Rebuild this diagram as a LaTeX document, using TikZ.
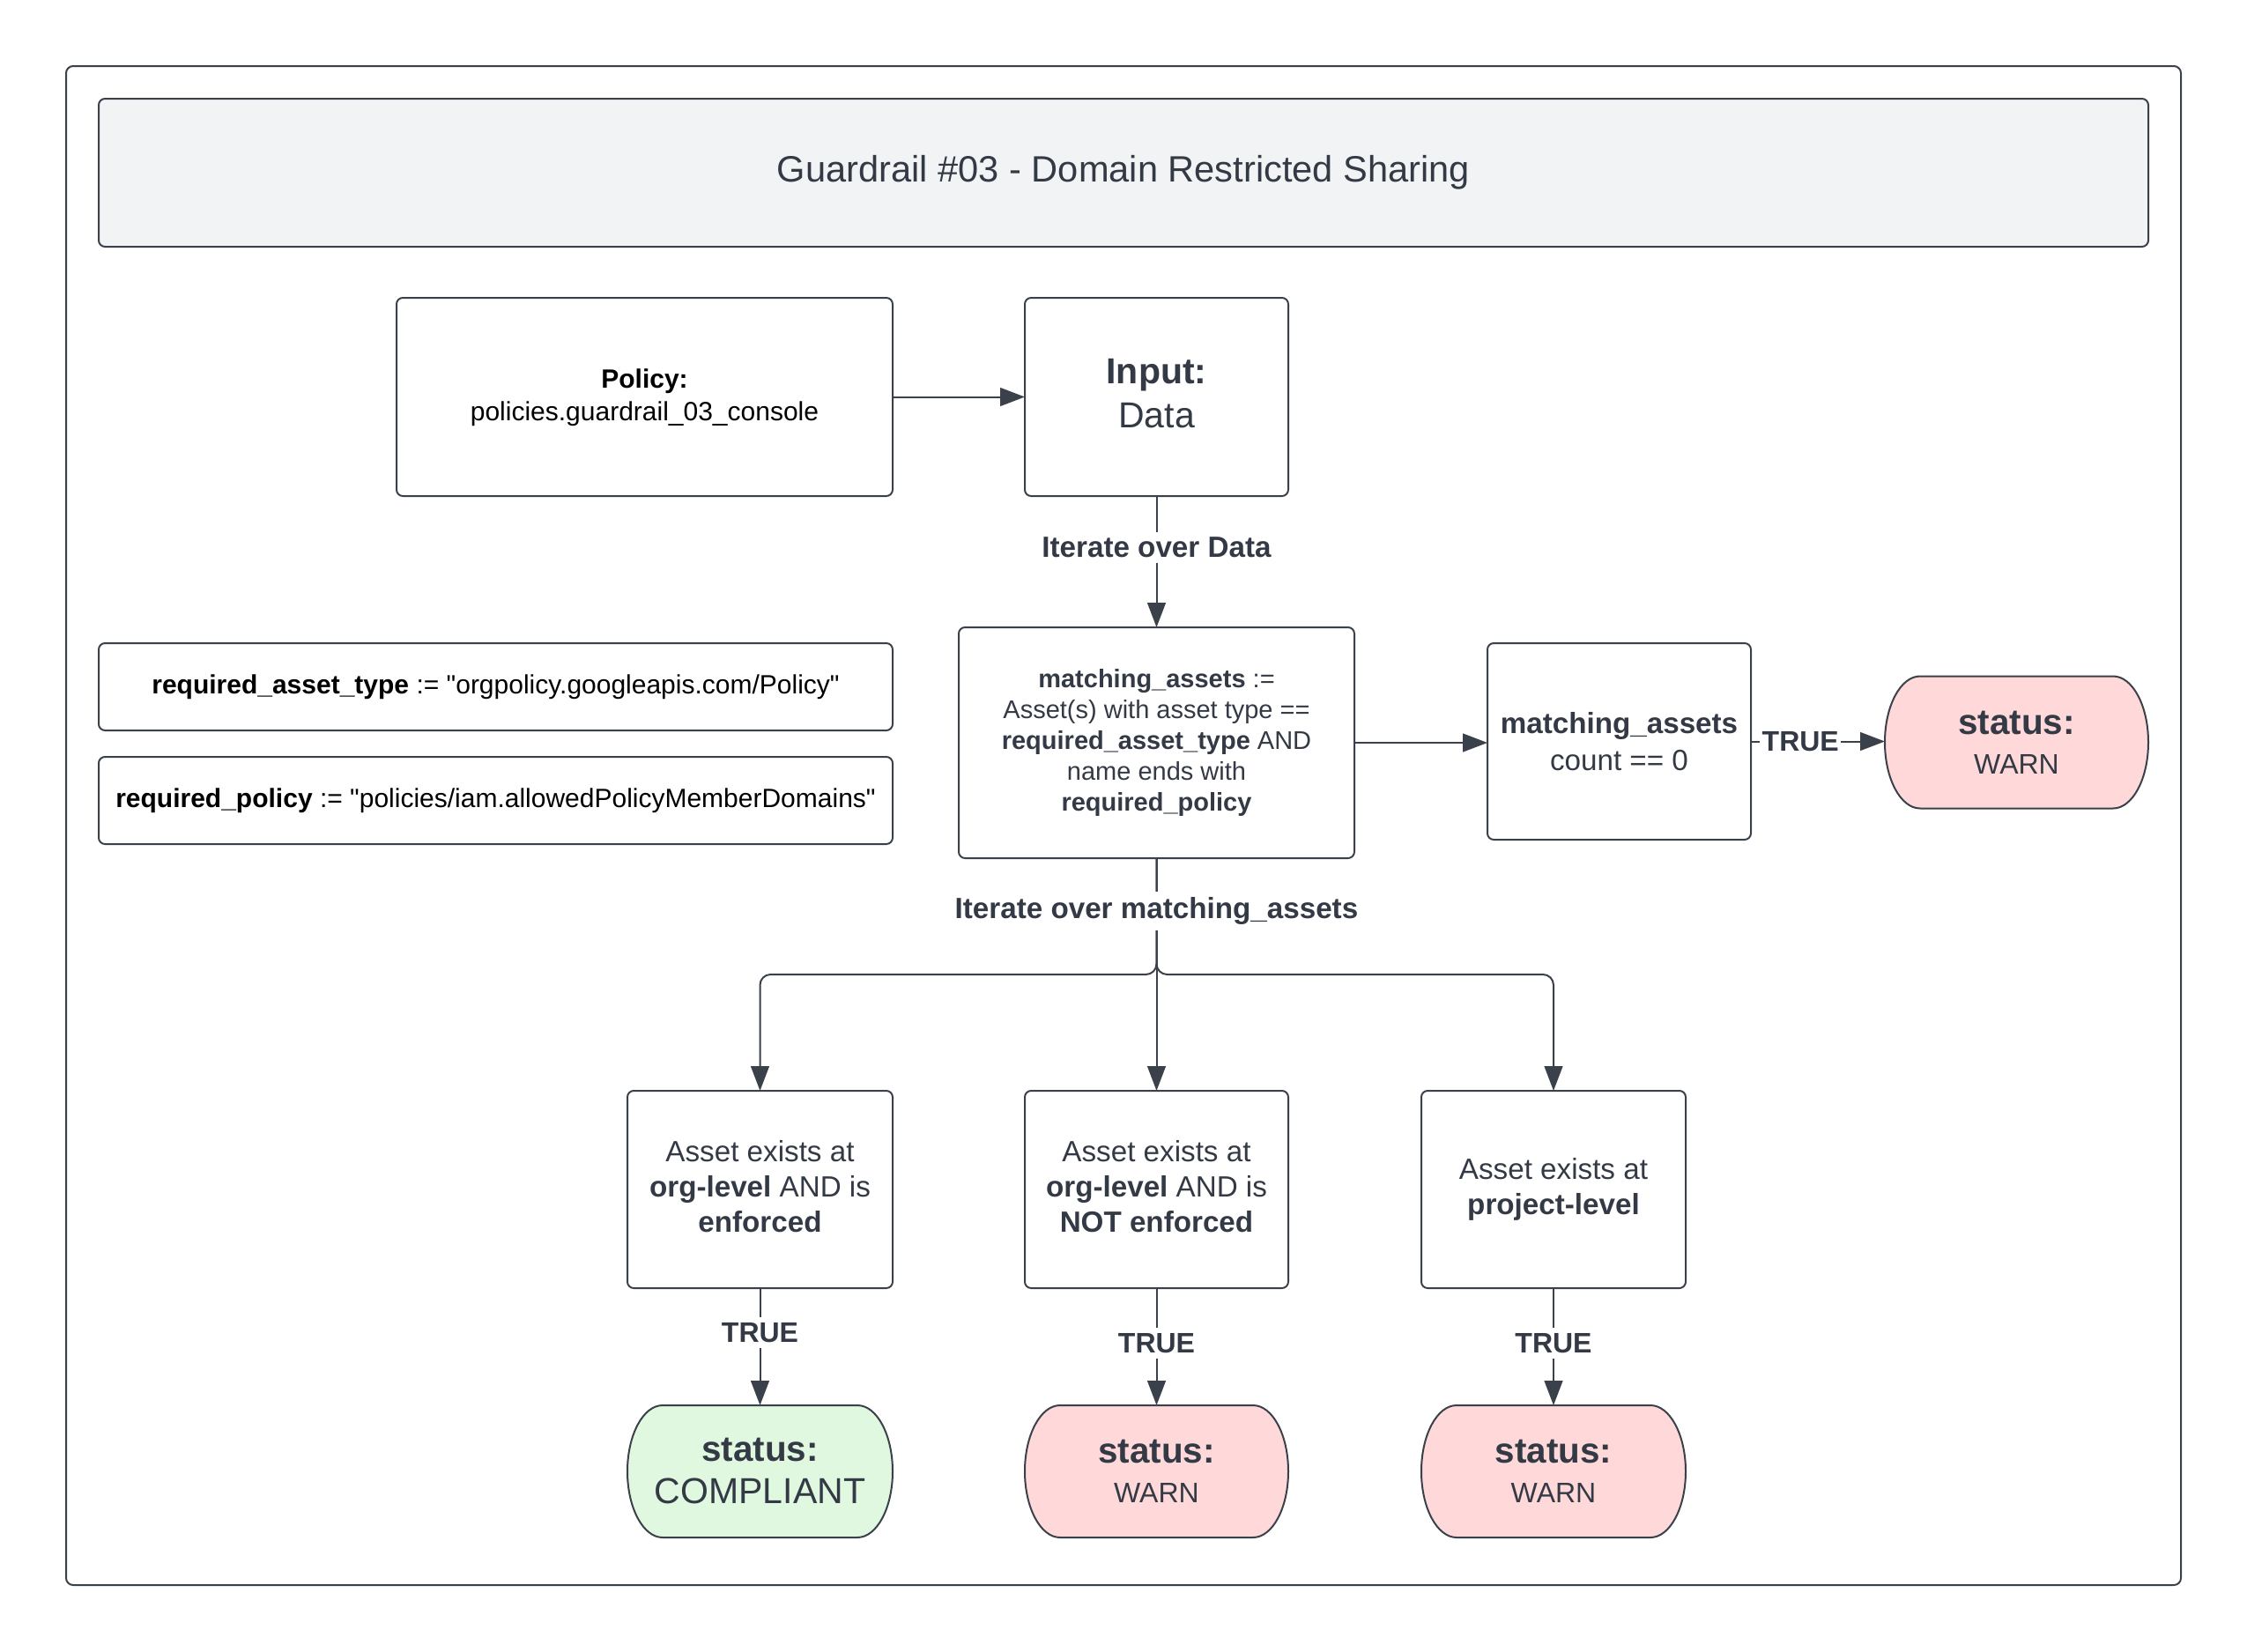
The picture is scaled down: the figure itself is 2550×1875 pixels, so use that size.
\documentclass[tikz,border=0pt]{standalone}
\usepackage{fontspec}
\setmainfont{Liberation Sans}[Ligatures=TeXOff]
\usetikzlibrary{arrows.meta,calc,backgrounds}
\definecolor{linec}{HTML}{3A414A}
\definecolor{textc}{HTML}{333A45}
\definecolor{titlefill}{HTML}{F2F3F5}
\definecolor{pinkfill}{HTML}{FFD9D9}
\definecolor{greenfill}{HTML}{E1F8E0}
\newcommand{\fs}[2]{\fontsize{#1}{#2}\selectfont}
\newcommand{\termbg}[2]{%
  \begin{scope}[on background layer]
  \filldraw[fill=#2, draw=linec, line width=0.5pt]
    ($(#1.north west)+(10pt,0)$) -- ($(#1.north east)+(-10pt,0)$)
    arc[start angle=90, end angle=-90, x radius=10pt, y radius=18.75pt]
    -- ($(#1.south west)+(10pt,0)$)
    arc[start angle=270, end angle=90, x radius=10pt, y radius=18.75pt]
    -- cycle;
  \end{scope}}
\tikzset{
  box/.style={draw=linec, line width=0.5pt, rounded corners=1.8pt, align=center,
    inner sep=0pt, outer sep=0pt, text=textc},
  term/.style={align=center, inner sep=0pt, outer sep=0pt, text=textc},
  arr/.style={draw=linec, line width=0.5pt, -{Triangle[length=7pt,width=5.2pt]}},
  lab/.style={fill=white, inner sep=1.5pt, text=textc, font=\bfseries\fs{8.3}{10}},
}
\begin{document}
\begin{tikzpicture}[x=0.25pt, y=-0.25pt]
\useasboundingbox (0,0) rectangle (2550,1875);
% outer frame
\draw[draw=linec, line width=0.5pt, rounded corners=2pt] (75,75) rectangle (2475,1799);
% title
\node[box, fill=titlefill, minimum width=581.5pt, minimum height=42pt, font=\fs{10.4}{12.5}] (title) at (1275,196) {Guardrail \#03 - Domain Restricted Sharing};
% policy & input
\node[box, text=black, minimum width=140.75pt, minimum height=56.25pt, font=\fs{7.5}{9.25}] (policy) at (731.5,450.5) {\textbf{Policy:}\\policies.guardrail\_03\_console\\[-8.25pt]};
\node[box, minimum width=74.75pt, minimum height=56.25pt, font=\fs{10.25}{12.5}] (input) at (1312.5,450.5) {\textbf{Input:}\\Data\\[-10.5pt]};
% requirements
\node[box, text=black, minimum width=225.25pt, minimum height=24.75pt, font=\fs{7.5}{9}] (rat) at (562.5,779.5) {\textbf{required\_asset\_type} := "orgpolicy.googleapis.com/Policy"};
\node[box, text=black, minimum width=225.25pt, minimum height=24.75pt, font=\fs{7.5}{9}] (rp) at (562.5,908.5) {\textbf{required\_policy} := "policies/iam.allowedPolicyMemberDomains"};
% matching
\node[box, minimum width=112.25pt, minimum height=65.5pt, font=\fs{7.25}{8.75}] (match) at (1312.5,843) {\textbf{matching\_assets} :=\\Asset(s) with asset type ==\\\textbf{required\_asset\_type} AND\\name ends with\\\textbf{required\_policy}};
\node[box, minimum width=74.75pt, minimum height=55.75pt, font=\fs{8.3}{10.5}] (count) at (1837.5,841.5) {\textbf{matching\_assets}\\count == 0};
\node[term, minimum width=74.75pt, minimum height=37.5pt] (warn0) at (2288.5,842.5) {{\bfseries\fs{10.1}{11}status:}\\[-0.8pt]{\fs{8}{10}WARN}};
\termbg{warn0}{pinkfill}
% bottom conditions
\node[box, minimum width=75.25pt, minimum height=56pt, font=\fs{8.3}{10}] (b1) at (862.5,1350) {Asset exists at\\\textbf{org-level} AND is\\\textbf{enforced}\\[-8.2pt]};
\node[box, minimum width=74.75pt, minimum height=56pt, font=\fs{8.3}{10}] (b2) at (1312.5,1350) {Asset exists at\\\textbf{org-level} AND is\\\textbf{NOT enforced}\\[-8.2pt]};
\node[box, minimum width=75pt, minimum height=56pt, font=\fs{8.3}{10}] (b3) at (1763,1350) {Asset exists at\\\textbf{project-level}};
% status bottom
\node[term, minimum width=75.25pt, minimum height=37.5pt] (s1) at (862.5,1670) {{\bfseries\fs{10.1}{11}status:}\\[0pt]{\fs{10.25}{11}COMPLIANT}};
\termbg{s1}{greenfill}
\node[term, minimum width=74.75pt, minimum height=37.5pt] (s2) at (1312.5,1670) {{\bfseries\fs{10.1}{11}status:}\\[-0.8pt]{\fs{8}{10}WARN}};
\termbg{s2}{pinkfill}
\node[term, minimum width=75pt, minimum height=37.5pt] (s3) at (1763,1670) {{\bfseries\fs{10.1}{11}status:}\\[-0.8pt]{\fs{8}{10}WARN}};
\termbg{s3}{pinkfill}
% connectors
\draw[arr] (policy.east) -- (input.west |- policy.east);
\draw[arr] (input.south) -- (match.north) node[lab, pos=0.39] {Iterate over Data};
\draw[arr] (match.east) -- (count.west |- match.east);
\draw[arr] (count.east) -- (warn0.west |- count.east) node[lab, pos=0.37, inner sep=0.6pt, font=\bfseries\fs{8}{10}] {TRUE};
\coordinate (split) at (1312.5,1106);
\draw[arr, rounded corners=3pt] (match.south) -- (split) -| (b1.north);
\draw[arr, rounded corners=3pt] (match.south) -- (split) -| (b3.north);
\draw[arr] (match.south) -- (b2.north);
\node[lab] (itm) at (1312.5,1034) {Iterate over matching\_assets};
\draw[arr] (b1.south) -- (s1.north) node[lab, pos=0.38, font=\bfseries\fs{8}{10}] {TRUE};
\draw[arr] (b2.south) -- (s2.north) node[lab, pos=0.47, font=\bfseries\fs{8}{10}] {TRUE};
\draw[arr] (b3.south) -- (s3.north) node[lab, pos=0.47, font=\bfseries\fs{8}{10}] {TRUE};
\end{tikzpicture}
\end{document}
